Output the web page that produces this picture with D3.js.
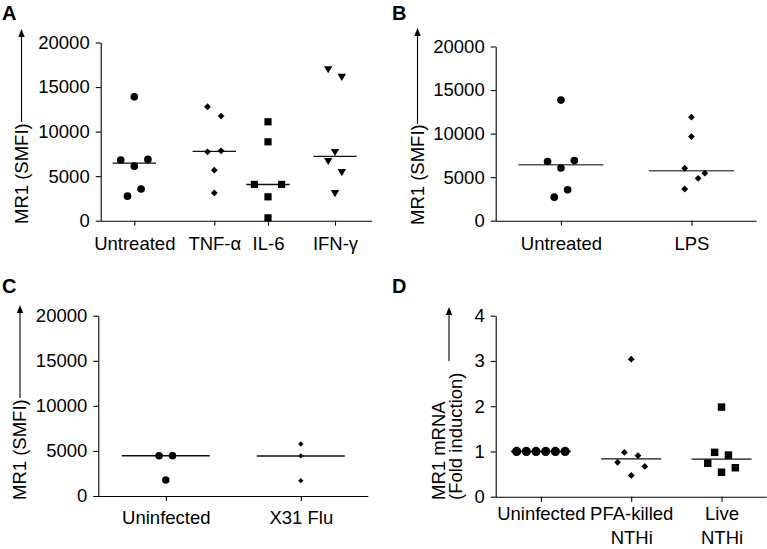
<!DOCTYPE html>
<html>
<head>
<meta charset="utf-8">
<script src="https://cdn.jsdelivr.net/npm/d3@7"></script>
<style>
  html, body { margin: 0; padding: 0; background: #fff; }
  svg { display: block; font-family: "Liberation Sans", Arial, sans-serif; }
</style>
</head>
<body>
<svg id="chart" width="767" height="549"></svg>
<script>
// ---------------- DATA ----------------
const yTicksSMFI = [0, 5000, 10000, 15000, 20000];
const yTicksFold = [0, 1, 2, 3, 4];

// Panel A
const catA = ["Untreated", "TNF-α", "IL-6", "IFN-γ"];
const valA_untreated = [13900, 6800, 6880, 6120, 3560, 2750];
const valA_tnf = [12790, 11740, 7730, 7840, 5670, 3120];
const valA_il6 = [11100, 8850, 4070, 4070, 2680, 320];
const valA_ifn = [17020, 16160, 7730, 6720, 5480, 3120];
const slotA_untreated = [0, -2, 2, 0, 1, -1];
const slotA_tnf = [-1, 1, -1, 1, 0, 0];
const slotA_il6 = [0, 0, -2, 2, 0, 0];
const slotA_ifn = [-1, 1, 0, -1, 1, 0];

// Panel B
const catB = ["Untreated", "LPS"];
const valB_untreated = [13850, 6800, 6900, 6050, 3550, 2700];
const valB_lps = [11880, 9660, 6020, 5450, 4870, 3640];
const slotB_untreated = [0, -2, 2, 0, 1, -1];
const slotB_lps = [0, 0, -1, 2, 1, -1];

// Panel C
const catC = ["Uninfected", "X31 Flu"];
const valC_uninfected = [4470, 4470, 1775];
const valC_flu = [5770, 4440, 1700];
const slotC_uninfected = [-1, 1, 0];
const slotC_flu = [0, 0, 0];

// Panel D
const catD = ["Uninfected", "PFA-killed\nNTHi", "Live\nNTHi"];
const valD_uninfected = [1, 1, 1, 1, 1, 1];
const valD_pfa = [3.04, 0.98, 0.91, 0.76, 0.67, 0.47];
const valD_live = [1.98, 0.98, 0.92, 0.74, 0.64, 0.54];
const slotD_uninfected = [-2.5, -1.5, -0.5, 0.5, 1.5, 2.5];
const slotD_pfa = [0, -1, 1, -2, 2, 0];
const slotD_live = [0, -1, 1, -2, 2, 0];

// ---------------- SYMBOLS ----------------
const symDiamond = { draw(ctx, size) { const r = Math.sqrt(size / 2); ctx.moveTo(0, -r); ctx.lineTo(r, 0); ctx.lineTo(0, r); ctx.lineTo(-r, 0); ctx.closePath(); } };
const symSquare = { draw(ctx, size) { const s = Math.sqrt(size) / 2; ctx.rect(-s, -s, 2 * s, 2 * s); } };
const symTriDown = { draw(ctx, size) { const w = Math.sqrt(size * 2 / 0.85) / 2; const h = w * 1.7 / 2; ctx.moveTo(-w, -h * 0.8); ctx.lineTo(w, -h * 0.8); ctx.lineTo(0, h * 1.2); ctx.closePath(); } };
const symCircle = d3.symbolCircle;

const svg = d3.select("#chart");
const FONT = 18.5;

function panel(cfg) {
  const g = svg.append("g");
  const y = d3.scaleLinear().domain([0, cfg.yMax]).range([cfg.yBot, cfg.yTop]);
  const x = cfg.xScale;

  // y axis
  const ya = g.append("g").attr("transform", `translate(${cfg.x0},0)`)
    .call(d3.axisLeft(y).tickValues(cfg.yTicks).tickSize(5).tickSizeOuter(0).tickPadding(6).tickFormat(d3.format("d")));
  ya.selectAll("text").style("font-size", FONT + "px").attr("fill", "#000");
  ya.selectAll("line, path").attr("stroke", "#000").attr("stroke-width", 1.1);

  // x axis
  const xa = g.append("g").attr("transform", `translate(0,${cfg.yBot})`)
    .call(d3.axisBottom(x).tickSize(5).tickSizeOuter(0).tickPadding(cfg.xPad));
  xa.select(".domain").attr("d", `M${cfg.x0},0.5H${cfg.x1}`);
  xa.selectAll("line, path").attr("stroke", "#000").attr("stroke-width", 1.1);
  xa.selectAll("text").style("font-size", FONT + "px").attr("fill", "#000")
    .each(function (d) {
      const parts = String(d).split("\n");
      if (parts.length > 1) {
        const t = d3.select(this).text(null);
        parts.forEach((p, i) => t.append("tspan").attr("x", 0).attr("dy", i === 0 ? "0.71em" : "1.28em").text(p));
        t.attr("dy", null);
      }
    });

  // y title (rotated) + arrow
  cfg.titleLines.forEach((t, i) => {
    g.append("text")
      .attr("transform", `translate(${cfg.titleX[i]},${cfg.titleStart}) rotate(-90)`)
      .attr("text-anchor", "start").attr("dy", "0.35em")
      .style("font-size", FONT + "px").text(t);
  });
  g.append("line").attr("x1", cfg.arrowX).attr("x2", cfg.arrowX)
    .attr("y1", cfg.arrowBot).attr("y2", cfg.arrowTip + 6)
    .attr("stroke", "#000").attr("stroke-width", 1.1);
  g.append("path")
    .attr("d", `M${cfg.arrowX},${cfg.arrowTip}L${cfg.arrowX - 3.2},${cfg.arrowTip + 8}L${cfg.arrowX + 3.2},${cfg.arrowTip + 8}Z`)
    .attr("fill", "#000");

  // panel letter
  g.append("text").attr("x", cfg.letterX).attr("y", cfg.letterY)
    .style("font-size", "20px").style("font-weight", "bold").text(cfg.letter);

  // series
  cfg.series.forEach((s, si) => {
    const cx = x(cfg.cats[si]);
    const med = d3.median(s.values);
    g.append("line")
      .attr("x1", cx - cfg.medHalf).attr("x2", cx + cfg.medHalf)
      .attr("y1", y(med)).attr("y2", y(med))
      .attr("stroke", cfg.medColor).attr("stroke-width", 1.4);
    const sym = d3.symbol().type(s.type).size(s.size);
    g.selectAll(null).data(s.values).enter().append("path")
      .attr("d", sym)
      .attr("transform", (d, i) => `translate(${cx + s.slots[i] * s.slotW},${y(d)})`)
      .attr("fill", "#000");
  });
}

// Panel A
panel({
  letter: "A", letterX: 2, letterY: 20,
  x0: 100.7, x1: 372, yTop: 42.5, yBot: 220.7, yMax: 20000, yTicks: yTicksSMFI,
  xScale: d3.scaleOrdinal().domain(catA).range([134.3, 214.3, 268, 335]),
  cats: catA, xPad: 11.5, medHalf: 21.7, medColor: "#111",
  titleLines: ["MR1 (SMFI)"], titleX: [21.5], titleStart: 224,
  arrowX: 21.5, arrowTip: 29, arrowBot: 122,
  series: [
    { values: valA_untreated, slots: slotA_untreated, type: symCircle, size: 46, slotW: 6.8 },
    { values: valA_tnf, slots: slotA_tnf, type: symDiamond, size: 23, slotW: 6.8 },
    { values: valA_il6, slots: slotA_il6, type: symSquare, size: 52, slotW: 6.8 },
    { values: valA_ifn, slots: slotA_ifn, type: symTriDown, size: 30, slotW: 6.8 }
  ]
});

// Panel B
panel({
  letter: "B", letterX: 392, letterY: 20,
  x0: 495.7, x1: 756.7, yTop: 46.5, yBot: 220.7, yMax: 20000, yTicks: yTicksSMFI,
  xScale: d3.scalePoint().domain(catB).range([495.7, 756.7]).padding(0.5),
  cats: catB, xPad: 11, medHalf: 42.5, medColor: "#555",
  titleLines: ["MR1 (SMFI)"], titleX: [417.5], titleStart: 225,
  arrowX: 417.5, arrowTip: 28, arrowBot: 124,
  series: [
    { values: valB_untreated, slots: slotB_untreated, type: symCircle, size: 46, slotW: 6.7 },
    { values: valB_lps, slots: slotB_lps, type: symDiamond, size: 23, slotW: 6.7 }
  ]
});

// Panel C
panel({
  letter: "C", letterX: 2, letterY: 293,
  x0: 98.3, x1: 368.3, yTop: 315.7, yBot: 496, yMax: 20000, yTicks: yTicksSMFI,
  xScale: d3.scalePoint().domain(catC).range([98.3, 368.3]).padding(0.5),
  cats: catC, xPad: 9.5, medHalf: 44, medColor: "#111",
  titleLines: ["MR1 (SMFI)"], titleX: [20], titleStart: 500,
  arrowX: 20, arrowTip: 305, arrowBot: 398,
  series: [
    { values: valC_uninfected, slots: slotC_uninfected, type: symCircle, size: 44, slotW: 6.7 },
    { values: valC_flu, slots: slotC_flu, type: symDiamond, size: 14, slotW: 6.7 }
  ]
});

// Panel D
panel({
  letter: "D", letterX: 392, letterY: 293,
  x0: 495.7, x1: 766.7, yTop: 315.7, yBot: 496.7, yMax: 4, yTicks: yTicksFold,
  xScale: d3.scalePoint().domain(catD).range([495.7, 766.7]).padding(0.5),
  cats: catD, xPad: 5, medHalf: 30, medColor: "#111",
  titleLines: ["MR1 mRNA", "(Fold induction)"], titleX: [439, 456], titleStart: 500,
  arrowX: 449, arrowTip: 307, arrowBot: 361,
  series: [
    { values: valD_uninfected, slots: slotD_uninfected, type: symCircle, size: 66, slotW: 9.7 },
    { values: valD_pfa, slots: slotD_pfa, type: symDiamond, size: 23, slotW: 6.8 },
    { values: valD_live, slots: slotD_live, type: symSquare, size: 56, slotW: 6.9 }
  ]
});
</script>
</body>
</html>
